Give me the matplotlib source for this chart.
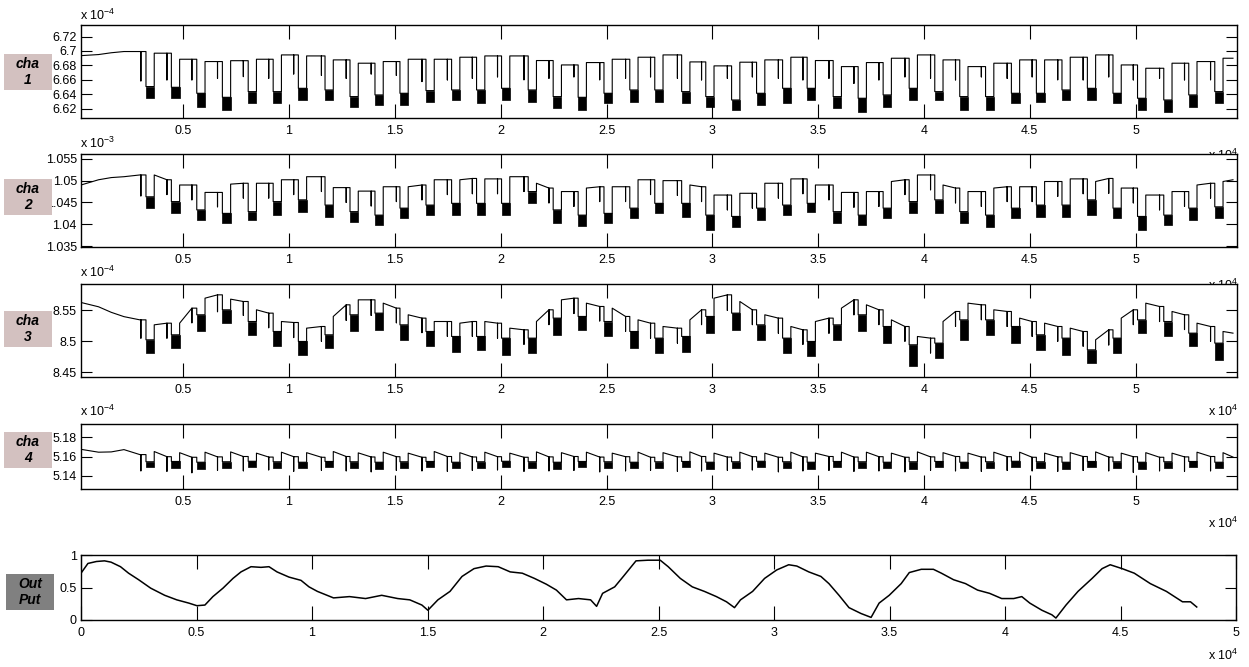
import matplotlib
matplotlib.use("Agg")
import matplotlib.pyplot as plt
from matplotlib.patches import Rectangle

plt.rcParams['font.family'] = ['Liberation Sans', 'DejaVu Sans']
plt.rcParams['mathtext.default'] = 'regular'

# pulse timing shared by the four sensor channels (sample index)
dip_on = [3240, 4440, 5640, 6850, 8070, 9250, 10440, 11700, 12880, 14060,
          15240, 16470, 17680, 18860, 20040, 21300, 22480, 23660, 24880, 26100,
          27280, 28550, 29690, 30910, 32090, 33320, 34480, 35710, 36890, 38070,
          39300, 40510, 41690, 42910, 44130, 45310, 46520, 47720, 48930, 50090,
          51330, 52510, 53740]
dip_off = [3630, 4830, 6030, 7240, 8460, 9640, 10830, 12090, 13270, 14450,
           15630, 16860, 18070, 19250, 20430, 21690, 22870, 24050, 25270, 26490,
           27670, 28940, 30080, 31300, 32480, 33710, 34870, 36100, 37280, 38460,
           39690, 40900, 42080, 43300, 44520, 45700, 46910, 48110, 49320, 50480,
           51720, 52900, 54130]
spike_x = [3000, 4230, 5410, 6620, 7840, 9040, 10220, 11530, 12700, 13880,
           15070, 16280, 17480, 18660, 19850, 21100, 22280, 23460, 24680, 25900,
           27080, 28350, 29490, 30710, 31890, 33120, 34280, 35510, 36690, 37870,
           39100, 40310, 41490, 42710, 43930, 45110, 46320, 47520, 48730, 49890,
           51130, 52310, 53540]
x_end = 54600
pre_x = [170, 1000, 1600, 2200, 2950]

# cha 1 (x 1e-4)
c1_pre = [6.6935, 6.6950, 6.6975, 6.6992, 6.6992]
c1_hi = [6.6969, 6.6885, 6.6853, 6.6865, 6.6885, 6.6945, 6.6931, 6.6876, 6.6830, 6.6853,
         6.6885, 6.6885, 6.6913, 6.6931, 6.6931, 6.6867, 6.6806, 6.6839, 6.6885, 6.6913,
         6.6945, 6.6848, 6.6793, 6.6844, 6.6876, 6.6913, 6.6867, 6.6783, 6.6839, 6.6899,
         6.6945, 6.6876, 6.6783, 6.6830, 6.6876, 6.6876, 6.6913, 6.6945, 6.6806, 6.6760,
         6.6830, 6.6853, 6.6899]
c1_lo_top = [6.6506, 6.6496, 6.6413, 6.6357, 6.6436, 6.6436, 6.6482, 6.6459, 6.6367, 6.6390,
             6.6413, 6.6450, 6.6459, 6.6459, 6.6482, 6.6459, 6.6367, 6.6357, 6.6413, 6.6459,
             6.6459, 6.6436, 6.6367, 6.6320, 6.6413, 6.6482, 6.6482, 6.6367, 6.6344, 6.6390,
             6.6482, 6.6436, 6.6367, 6.6367, 6.6413, 6.6413, 6.6459, 6.6482, 6.6413, 6.6344,
             6.6320, 6.6390, 6.6436]
c1_lo_bot = [6.6344, 6.6344, 6.6228, 6.6181, 6.6274, 6.6274, 6.6320, 6.6320, 6.6228, 6.6251,
             6.6251, 6.6297, 6.6320, 6.6274, 6.6320, 6.6297, 6.6204, 6.6181, 6.6274, 6.6297,
             6.6297, 6.6274, 6.6228, 6.6181, 6.6251, 6.6274, 6.6320, 6.6204, 6.6158, 6.6228,
             6.6320, 6.6320, 6.6181, 6.6181, 6.6274, 6.6297, 6.6320, 6.6320, 6.6274, 6.6181,
             6.6158, 6.6228, 6.6274]
c1_spike = [6.6584, 6.6598, 6.6598, 6.6620, 6.6644, 6.6620, 6.6680, 6.6660, 6.6620, 6.6680,
            6.6660, 6.6575, 6.6598, 6.6620, 6.6640, 6.6600, 6.6620, 6.6640, 6.6600, 6.6620,
            6.6640, 6.6620, 6.6598, 6.6620, 6.6640, 6.6620, 6.6598, 6.6620, 6.6550, 6.6598,
            6.6640, 6.6620, 6.6598, 6.6640, 6.6620, 6.6640, 6.6600, 6.6598, 6.6640, 6.6598,
            6.6620, 6.6598, 6.6600]

# cha 2 (x 1e-3)
c2_pre = [1.0490, 1.0502, 1.0507, 1.0509, 1.0513]
c2_hi_a = [1.0513, 1.0490, 1.0473, 1.0492, 1.0494, 1.0502, 1.0509, 1.0484, 1.0476, 1.0486,
           1.0486, 1.0502, 1.0502, 1.0504, 1.0509, 1.0494, 1.0475, 1.0483, 1.0486, 1.0502,
           1.0500, 1.0490, 1.0467, 1.0471, 1.0494, 1.0504, 1.0490, 1.0473, 1.0475, 1.0498,
           1.0513, 1.0490, 1.0475, 1.0483, 1.0486, 1.0498, 1.0504, 1.0498, 1.0483, 1.0467,
           1.0475, 1.0490, 1.0498]
c2_hi_b = [1.0502, 1.0490, 1.0473, 1.0494, 1.0494, 1.0502, 1.0509, 1.0484, 1.0476, 1.0486,
           1.0490, 1.0502, 1.0505, 1.0504, 1.0509, 1.0483, 1.0475, 1.0486, 1.0486, 1.0502,
           1.0500, 1.0486, 1.0467, 1.0471, 1.0494, 1.0504, 1.0490, 1.0473, 1.0475, 1.0502,
           1.0513, 1.0483, 1.0475, 1.0486, 1.0486, 1.0498, 1.0504, 1.0505, 1.0483, 1.0467,
           1.0475, 1.0494, 1.0502]
c2_lo_top = [1.0463, 1.0452, 1.0433, 1.0425, 1.0429, 1.0452, 1.0456, 1.0444, 1.0429, 1.0421,
             1.0437, 1.0444, 1.0448, 1.0448, 1.0448, 1.0475, 1.0433, 1.0421, 1.0425, 1.0437,
             1.0448, 1.0448, 1.0421, 1.0418, 1.0437, 1.0444, 1.0448, 1.0429, 1.0421, 1.0437,
             1.0452, 1.0456, 1.0429, 1.0421, 1.0437, 1.0444, 1.0444, 1.0456, 1.0437, 1.0418,
             1.0421, 1.0437, 1.0440]
c2_lo_bot = [1.0437, 1.0425, 1.0410, 1.0402, 1.0410, 1.0421, 1.0429, 1.0417, 1.0406, 1.0398,
             1.0414, 1.0421, 1.0421, 1.0421, 1.0421, 1.0448, 1.0402, 1.0397, 1.0402, 1.0414,
             1.0425, 1.0417, 1.0387, 1.0394, 1.0410, 1.0421, 1.0429, 1.0402, 1.0398, 1.0414,
             1.0425, 1.0425, 1.0402, 1.0394, 1.0414, 1.0417, 1.0417, 1.0421, 1.0414, 1.0387,
             1.0398, 1.0410, 1.0414]
c2_spike = [1.0465, 1.0468, 1.0456, 1.0440, 1.0460, 1.0460, 1.0468, 1.0475, 1.0450, 1.0442,
            1.0452, 1.0456, 1.0468, 1.0470, 1.0470, 1.0475, 1.0449, 1.0441, 1.0452, 1.0452,
            1.0468, 1.0466, 1.0452, 1.0433, 1.0437, 1.0460, 1.0470, 1.0456, 1.0439, 1.0441,
            1.0468, 1.0479, 1.0449, 1.0441, 1.0452, 1.0452, 1.0464, 1.0470, 1.0471, 1.0449,
            1.0433, 1.0441, 1.0460]

# cha 3 (x 1e-4)
c3_pre = [8.5630, 8.5560, 8.5470, 8.5400, 8.5348]
c3_hi_a = [8.5267, 8.5294, 8.5700, 8.5684, 8.5511, 8.5321, 8.5213, 8.5403, 8.5673, 8.5619,
           8.5430, 8.5321, 8.5294, 8.5321, 8.5213, 8.5321, 8.5673, 8.5619, 8.5538, 8.5348,
           8.5240, 8.5348, 8.5700, 8.5646, 8.5430, 8.5240, 8.5321, 8.5538, 8.5592, 8.5348,
           8.5078, 8.5321, 8.5619, 8.5511, 8.5376, 8.5294, 8.5213, 8.5024, 8.5376, 8.5619,
           8.5484, 8.5294, 8.5159]
c3_hi_b = [8.5294, 8.5538, 8.5754, 8.5646, 8.5457, 8.5305, 8.5240, 8.5592, 8.5673, 8.5538,
           8.5376, 8.5321, 8.5321, 8.5294, 8.5186, 8.5511, 8.5700, 8.5565, 8.5403, 8.5294,
           8.5213, 8.5511, 8.5754, 8.5511, 8.5376, 8.5186, 8.5376, 8.5673, 8.5511, 8.5240,
           8.5051, 8.5484, 8.5592, 8.5484, 8.5321, 8.5240, 8.5159, 8.5186, 8.5511, 8.5565,
           8.5430, 8.5240, 8.5132]
c3_lo_top = [8.5024, 8.5105, 8.5430, 8.5511, 8.5321, 8.5159, 8.4997, 8.5105, 8.5430, 8.5457,
             8.5267, 8.5159, 8.5078, 8.5078, 8.5051, 8.5051, 8.5376, 8.5403, 8.5321, 8.5159,
             8.5051, 8.5078, 8.5403, 8.5457, 8.5267, 8.5051, 8.4997, 8.5267, 8.5430, 8.5240,
             8.4943, 8.4970, 8.5348, 8.5348, 8.5240, 8.5105, 8.5051, 8.4861, 8.5051, 8.5348,
             8.5321, 8.5132, 8.4970]
c3_lo_bot = [8.4807, 8.4889, 8.5159, 8.5294, 8.5105, 8.4916, 8.4780, 8.4889, 8.5159, 8.5186,
             8.5024, 8.4916, 8.4834, 8.4861, 8.4780, 8.4807, 8.5105, 8.5186, 8.5078, 8.4889,
             8.4807, 8.4834, 8.5132, 8.5186, 8.5024, 8.4807, 8.4753, 8.5024, 8.5159, 8.4970,
             8.4591, 8.4726, 8.5024, 8.5105, 8.4970, 8.4861, 8.4780, 8.4645, 8.4807, 8.5132,
             8.5078, 8.4916, 8.4699]
c3_spike = [8.505, 8.505, 8.530, 8.548, 8.542, 8.522, 8.506, 8.500, 8.534, 8.542,
            8.530, 8.514, 8.508, 8.508, 8.505, 8.495, 8.527, 8.545, 8.533, 8.516,
            8.505, 8.497, 8.527, 8.550, 8.527, 8.513, 8.495, 8.513, 8.543, 8.527,
            8.500, 8.481, 8.524, 8.535, 8.524, 8.508, 8.500, 8.492, 8.494, 8.527,
            8.532, 8.519, 8.500]

# cha 4 (x 1e-4)
c4_pre = [5.1675, 5.1645, 5.1648, 5.1672, 5.1620]
c4_hi_a = [5.1652, 5.1640, 5.1645, 5.1648, 5.1635, 5.1645, 5.1640, 5.1652, 5.1638, 5.1645,
           5.1635, 5.1652, 5.1640, 5.1645, 5.1635, 5.1648, 5.1640, 5.1645, 5.1635, 5.1645,
           5.1640, 5.1648, 5.1635, 5.1645, 5.1635, 5.1645, 5.1635, 5.1645, 5.1645, 5.1635,
           5.1648, 5.1640, 5.1635, 5.1645, 5.1645, 5.1635, 5.1640, 5.1648, 5.1635, 5.1640,
           5.1635, 5.1645, 5.1640]
c4_hi_b = [5.1598, 5.1592, 5.1596, 5.1600, 5.1594, 5.1598, 5.1592, 5.1600, 5.1595, 5.1598,
           5.1592, 5.1600, 5.1595, 5.1598, 5.1592, 5.1596, 5.1600, 5.1594, 5.1598, 5.1592,
           5.1596, 5.1600, 5.1594, 5.1598, 5.1592, 5.1596, 5.1600, 5.1594, 5.1598, 5.1592,
           5.1596, 5.1600, 5.1594, 5.1598, 5.1592, 5.1596, 5.1600, 5.1594, 5.1598, 5.1592,
           5.1596, 5.1600, 5.1594]
c4_lo_top = [5.1545, 5.1548, 5.1540, 5.1545, 5.1550, 5.1545, 5.1540, 5.1548, 5.1545, 5.1540,
             5.1545, 5.1548, 5.1540, 5.1545, 5.1550, 5.1545, 5.1540, 5.1548, 5.1545, 5.1540,
             5.1545, 5.1548, 5.1540, 5.1545, 5.1550, 5.1545, 5.1540, 5.1548, 5.1545, 5.1540,
             5.1545, 5.1548, 5.1540, 5.1545, 5.1550, 5.1545, 5.1540, 5.1548, 5.1545, 5.1540,
             5.1545, 5.1548, 5.1540]
c4_lo_bot = [5.1485, 5.1478, 5.1470, 5.1482, 5.1488, 5.1480, 5.1475, 5.1485, 5.1480, 5.1472,
             5.1482, 5.1485, 5.1475, 5.1480, 5.1488, 5.1480, 5.1472, 5.1485, 5.1480, 5.1475,
             5.1482, 5.1485, 5.1470, 5.1480, 5.1488, 5.1480, 5.1472, 5.1485, 5.1480, 5.1475,
             5.1470, 5.1485, 5.1475, 5.1480, 5.1488, 5.1480, 5.1472, 5.1485, 5.1480, 5.1465,
             5.1482, 5.1485, 5.1475]
c4_spike = [5.1450, 5.1445, 5.1430, 5.1455, 5.1450, 5.1460, 5.1445, 5.1455, 5.1450, 5.1440,
            5.1455, 5.1450, 5.1445, 5.1455, 5.1460, 5.1445, 5.1450, 5.1455, 5.1440, 5.1450,
            5.1455, 5.1445, 5.1450, 5.1455, 5.1460, 5.1440, 5.1450, 5.1455, 5.1445, 5.1450,
            5.1440, 5.1455, 5.1450, 5.1445, 5.1455, 5.1450, 5.1445, 5.1455, 5.1450, 5.1435,
            5.1450, 5.1445, 5.1450]

# Out Put
out_x = [0, 300, 667, 1017, 1300, 1710, 2060, 2493, 3016, 3623,
         4146, 4667, 5017, 5364, 5710, 6147, 6580, 6926, 7359, 7792,
         8139, 8485, 9004, 9524, 9870, 10234, 10931, 11623, 12320, 13017,
         13710, 14234, 14757, 15017, 15450, 15974, 16494, 17013, 17537, 18061,
         18581, 19104, 19628, 20147, 20580, 21017, 21537, 22061, 22320, 22580,
         23104, 23500, 24026, 24545, 25074, 25420, 25944, 26463, 26987, 27506,
         27944, 28290, 28550, 29074, 29593, 30117, 30636, 30987, 31506, 32030,
         32377, 32814, 33247, 33766, 34203, 34550, 34987, 35506, 35857, 36377,
         36900, 37247, 37771, 38290, 38814, 39333, 39857, 40377, 40727, 41074,
         41597, 42030, 42204, 42641, 43160, 43771, 44203, 44554, 45074, 45597,
         46290, 46987, 47684, 48030, 48300]
out_y = [0.72, 0.87, 0.90, 0.91, 0.89, 0.82, 0.72, 0.62, 0.49, 0.38,
         0.31, 0.26, 0.22, 0.23, 0.36, 0.49, 0.64, 0.74, 0.82, 0.81,
         0.82, 0.74, 0.66, 0.61, 0.51, 0.44, 0.34, 0.36, 0.33, 0.38,
         0.33, 0.31, 0.23, 0.15, 0.31, 0.44, 0.67, 0.79, 0.83, 0.82,
         0.74, 0.72, 0.64, 0.55, 0.46, 0.31, 0.33, 0.31, 0.21, 0.41,
         0.51, 0.68, 0.91, 0.92, 0.92, 0.82, 0.64, 0.51, 0.44, 0.36,
         0.28, 0.19, 0.31, 0.44, 0.64, 0.77, 0.85, 0.83, 0.74, 0.67,
         0.56, 0.38, 0.19, 0.10, 0.04, 0.26, 0.38, 0.56, 0.73, 0.78,
         0.78, 0.72, 0.62, 0.56, 0.46, 0.41, 0.33, 0.33, 0.36, 0.26,
         0.15, 0.08, 0.03, 0.23, 0.44, 0.64, 0.79, 0.85, 0.79, 0.72,
         0.56, 0.44, 0.28, 0.28, 0.20]

sens_ticks = [5000, 10000, 15000, 20000, 25000, 30000, 35000, 40000, 45000, 50000]
sens_labels = ['0.5', '1', '1.5', '2', '2.5', '3', '3.5', '4', '4.5', '5']
out_ticks = [0, 5000, 10000, 15000, 20000, 25000, 30000, 35000, 40000, 45000, 50000]
out_labels = ['0', '0.5', '1', '1.5', '2', '2.5', '3', '3.5', '4', '4.5', '5']

W, H = 1249, 667
fig = plt.figure(figsize=(W / 100, H / 100), dpi=100)


def add_ax(top, bottom, left=81, right=1237):
    ax = fig.add_axes([left / W, 1 - bottom / H, (right - left) / W, (bottom - top) / H])
    ax.tick_params(direction='in', top=True, right=True, labelsize=9, pad=3)
    ax.tick_params(axis='x', length=10, width=0.8, pad=5)
    ax.tick_params(axis='y', length=7.7, width=0.8)
    for s in ax.spines.values():
        s.set_linewidth(1.0)
    return ax


def draw_channel(ax, pre_y, hi_a, hi_b, lo_top, lo_bot, spikes):
    xs = list(pre_x)
    ys = list(pre_y)
    prev = pre_y[-1]
    for k in range(len(dip_on)):
        # short downward glitch, then the drop into the noisy low level
        xs += [spike_x[k], spike_x[k], spike_x[k], dip_on[k], dip_on[k], dip_off[k], dip_off[k]]
        ys += [prev, spikes[k], prev, prev, lo_top[k], lo_top[k], hi_a[k]]
        nxt = spike_x[k + 1] if k + 1 < len(dip_on) else x_end
        xs.append(nxt)
        ys.append(hi_b[k])
        prev = hi_b[k]
        ax.fill_between([dip_on[k], dip_off[k]], [lo_bot[k]] * 2, [lo_top[k]] * 2,
                        color='black', lw=0.5)
    ax.plot(xs, ys, color='black', lw=0.8)


def label_box(y0, y1, text, color, x0=4, x1=52):
    fig.patches.append(Rectangle((x0 / W, 1 - y1 / H), (x1 - x0) / W, (y1 - y0) / H,
                                 transform=fig.transFigure, facecolor=color,
                                 edgecolor='none'))
    fig.text((x0 + x1) / 2 / W, 1 - (y0 + y1) / 2 / H, text, ha='center', va='center',
             fontsize=10, fontweight='bold', fontstyle='italic', linespacing=1.15)


panels = [
    (25, 118, c1_pre, c1_hi, c1_hi, c1_lo_top, c1_lo_bot, c1_spike, (6.607, 6.736),
     [6.62, 6.64, 6.66, 6.68, 6.70, 6.72], ['6.62', '6.64', '6.66', '6.68', '6.7', '6.72'],
     '-4', 15, 155, (54, 90), 'cha\n1'),
    (154, 247, c2_pre, c2_hi_a, c2_hi_b, c2_lo_top, c2_lo_bot, c2_spike, (1.0348, 1.0561),
     [1.035, 1.04, 1.045, 1.05, 1.055], ['1.035', '1.04', '1.045', '1.05', '1.055'],
     '-3', 143, 285, (179, 215), 'cha\n2'),
    (284, 377, c3_pre, c3_hi_a, c3_hi_b, c3_lo_top, c3_lo_bot, c3_spike, (8.442, 8.593),
     [8.45, 8.50, 8.55], ['8.45', '8.5', '8.55'],
     '-4', 272, 411, (311, 347), 'cha\n3'),
    (424, 489, c4_pre, c4_hi_a, c4_hi_b, c4_lo_top, c4_lo_bot, c4_spike, (5.126, 5.194),
     [5.14, 5.16, 5.18], ['5.14', '5.16', '5.18'],
     '-4', 411, 523, (432, 468), 'cha\n4'),
]

for (top, bot, pre_y, hi_a, hi_b, lo_t, lo_b, spk, ylim, yt, ytl, expo, ey, xmy, box, name) in panels:
    ax = add_ax(top, bot)
    draw_channel(ax, pre_y, hi_a, hi_b, lo_t, lo_b, spk)
    ax.set_xlim(170, 54790)
    ax.set_ylim(*ylim)
    ax.set_xticks(sens_ticks)
    ax.set_xticklabels(sens_labels)
    ax.set_yticks(yt)
    ax.set_yticklabels(ytl)
    fig.text(80 / W, 1 - ey / H, 'x 10$^{' + expo + '}$', fontsize=9, ha='left', va='center')
    ax.text(1238 / W, 1 - xmy / H, 'x 10$^{4}$', fontsize=9, ha='right', va='center',
            transform=fig.transFigure, clip_on=False)
    label_box(box[0], box[1], name, '#d3c1c0')

ax5 = add_ax(555, 620, right=1236)
ax5.plot(out_x, out_y, color='black', lw=1.1)
ax5.set_xlim(0, 50000)
ax5.set_ylim(0, 1)
ax5.set_xticks(out_ticks)
ax5.set_xticklabels(out_labels)
ax5.set_yticks([0, 0.5, 1])
ax5.set_yticklabels(['0', '0.5', '1'])
fig.text(1238 / W, 1 - 655 / H, 'x 10$^{4}$', fontsize=9, ha='right', va='center')
label_box(574, 610, 'Out\nPut', '#808080', x0=6, x1=54)

fig.savefig('out.png', dpi=100)
